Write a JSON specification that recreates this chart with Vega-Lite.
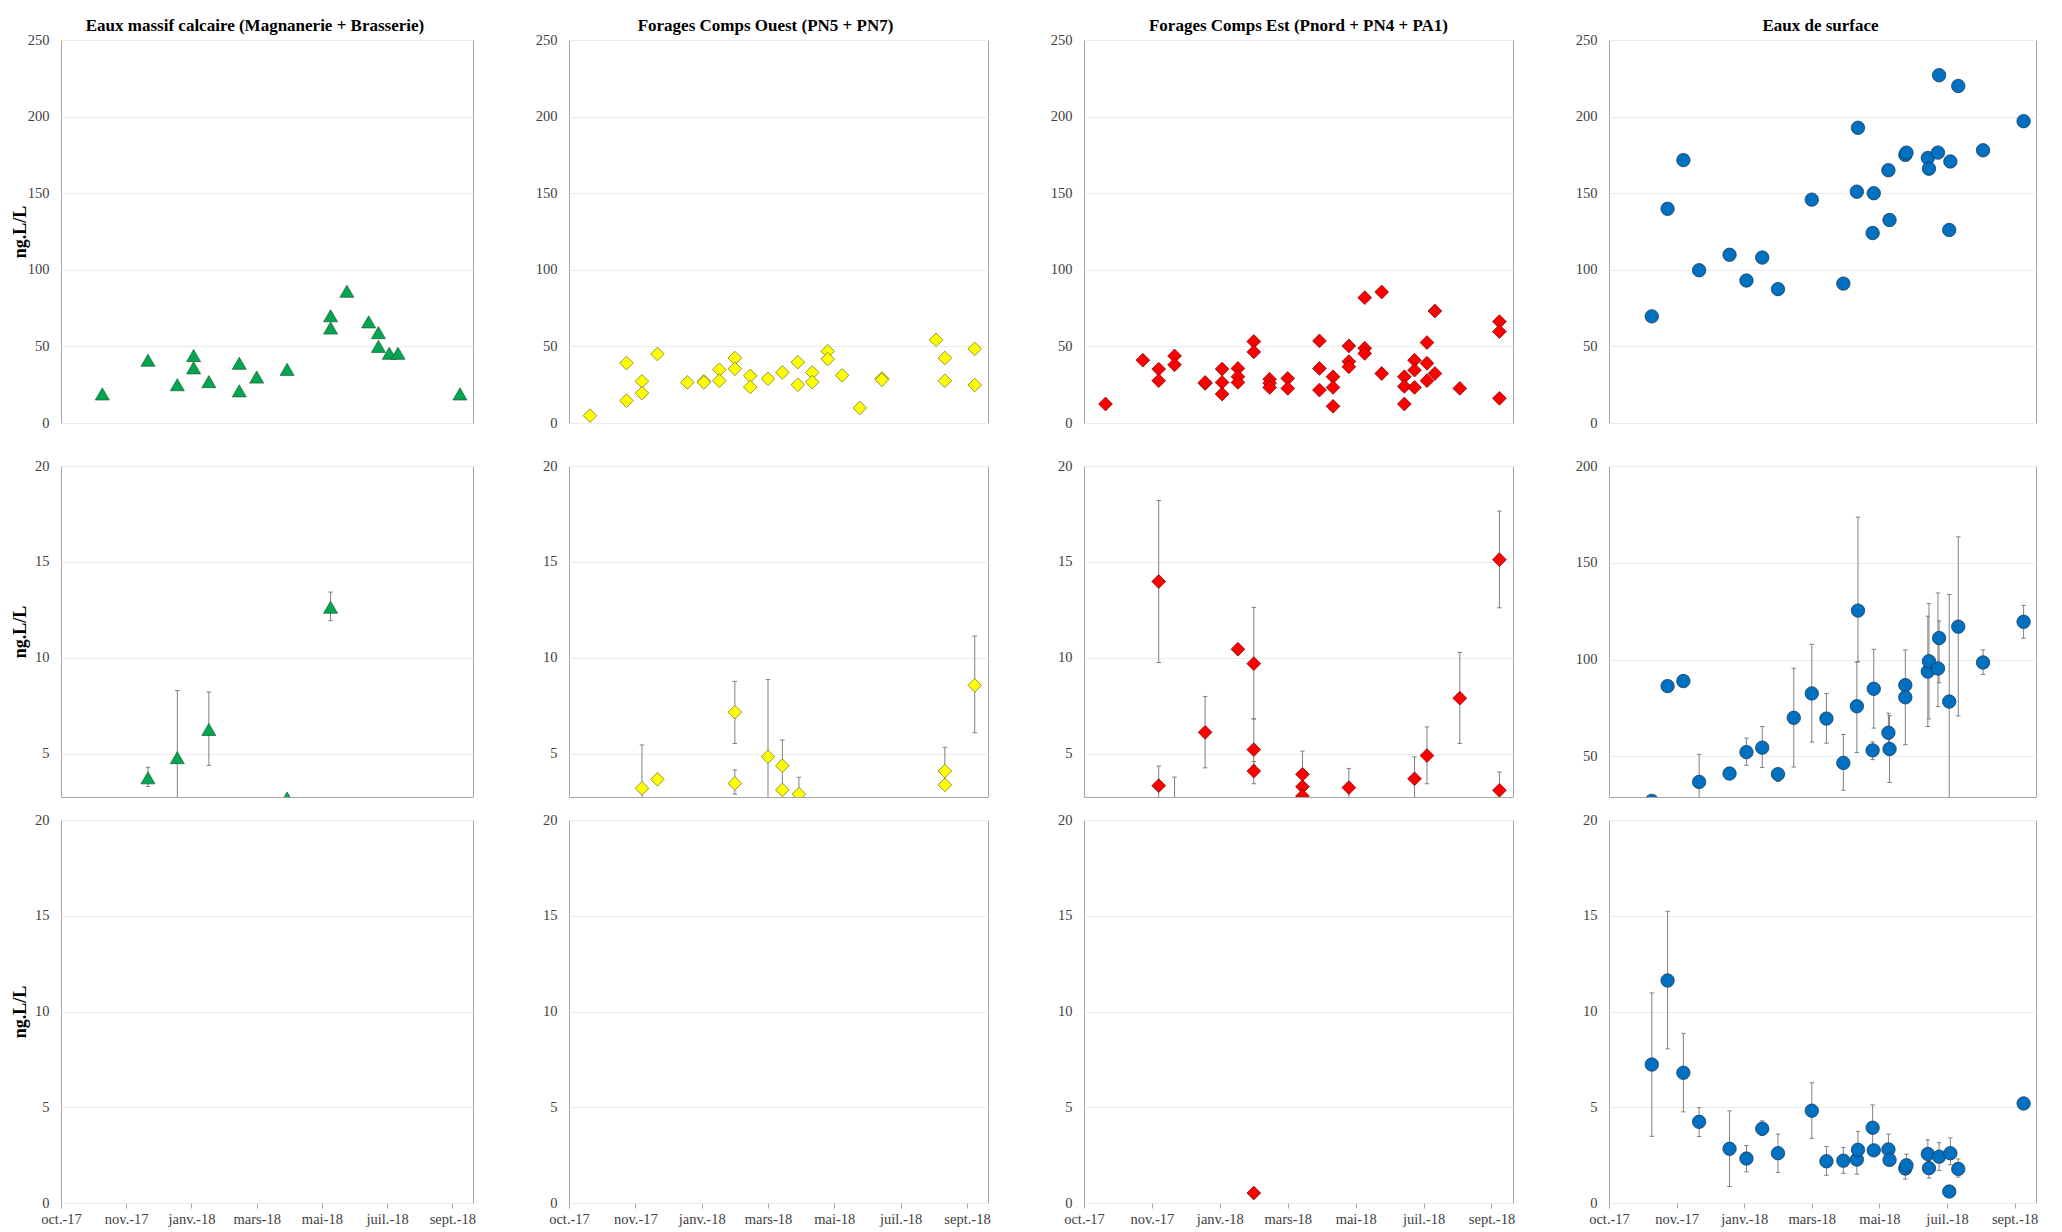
{
  "$schema": "https://vega.github.io/schema/vega-lite/v6.json",
  "background": "white",
  "padding": {"left": 10, "top": 16, "right": 5, "bottom": 2},
  "spacing": 13,
  "config": {
    "view": {"stroke": "#A6A6A6", "strokeWidth": 1},
    "font": "Liberation Serif",
    "axis": {"labelFont": "Liberation Serif", "labelFontSize": 14.5, "labelColor": "#404040", "titleFont": "Liberation Serif", "titleFontSize": 18, "titleFontWeight": "bold", "titleColor": "#000000", "gridColor": "#EBEBEB", "gridWidth": 1, "domain": false, "ticks": false, "labelPadding": 12},
    "title": {"font": "Liberation Serif", "fontSize": 17, "fontWeight": "bold", "color": "#000000", "offset": -20, "baseline": "bottom", "anchor": "middle", "frame": "group"}
  },
  "vconcat": [
    {
      "bounds": "flush",
      "spacing": 96,
      "hconcat": [
        {
          "width": 412, "height": 383,
          "title": {"text": "Eaux massif calcaire (Magnanerie + Brasserie)", "dx": -12, "font": "Liberation Serif", "fontSize": 17, "fontWeight": "bold", "color": "#000000", "offset": -20, "baseline": "bottom", "frame": "group"},
          "data": {"values": [{"date":"2017/11/08","conc":19},{"date":"2017/12/20","conc":41},{"date":"2018/01/16","conc":25},{"date":"2018/01/31","conc":44},{"date":"2018/01/31","conc":36},{"date":"2018/02/14","conc":27},{"date":"2018/03/14","conc":39},{"date":"2018/03/14","conc":21},{"date":"2018/03/30","conc":30},{"date":"2018/04/27","conc":35},{"date":"2018/06/06","conc":70},{"date":"2018/06/06","conc":62},{"date":"2018/06/21","conc":86},{"date":"2018/07/11","conc":66},{"date":"2018/07/20","conc":59},{"date":"2018/07/20","conc":50},{"date":"2018/07/30","conc":45.5},{"date":"2018/08/07","conc":45.5},{"date":"2018/10/03","conc":19}]},
          "mark": {"type": "point", "shape": "triangle-up", "filled": true, "fill": "#00A650", "stroke": "#245c35", "strokeWidth": 0.7, "size": 196, "opacity": 1, "clip": true},
          "encoding": {
            "x": {"field": "date", "type": "temporal", "scale": {"domain": [{"year":2017,"month":10,"date":1},{"year":2018,"month":10,"date":15}], "nice": false}, "axis": {"labels": false, "ticks": true, "tickSize": 20, "tickColor": "transparent", "domain": false, "grid": false, "title": null, "values": [{"year":2018,"month":4,"date":1}]}},
            "y": {"field": "conc", "type": "quantitative", "scale": {"domain": [0, 250], "nice": false, "zero": false}, "axis": {"values": [0,50,100,150,200,250], "title": "ng.L/L", "titleX": -32, "labelFont": "Liberation Serif", "labelFontSize": 14.5, "labelColor": "#404040", "labelPadding": 12, "ticks": false, "domain": false, "gridColor": "#EBEBEB", "titleFont": "Liberation Serif", "titleFontSize": 18, "titleFontWeight": "bold", "titleColor": "#000000"}}
          }
        },
        {
          "width": 419, "height": 383,
          "title": {"text": "Forages Comps Ouest (PN5 + PN7)", "dx": -13, "font": "Liberation Serif", "fontSize": 17, "fontWeight": "bold", "color": "#000000", "offset": -20, "baseline": "bottom", "frame": "group"},
          "data": {"values": [{"date":"2017/10/20","conc":4.8},{"date":"2017/11/22","conc":39.1},{"date":"2017/11/22","conc":14.6},{"date":"2017/12/06","conc":27.2},{"date":"2017/12/06","conc":19.5},{"date":"2017/12/20","conc":45},{"date":"2018/01/16","conc":26.5},{"date":"2018/01/31","conc":27.2},{"date":"2018/01/31","conc":26.5},{"date":"2018/02/14","conc":34.8},{"date":"2018/02/14","conc":27.6},{"date":"2018/02/28","conc":42.4},{"date":"2018/02/28","conc":35.4},{"date":"2018/03/14","conc":30.8},{"date":"2018/03/14","conc":23.5},{"date":"2018/03/30","conc":28.9},{"date":"2018/04/12","conc":33},{"date":"2018/04/26","conc":39.7},{"date":"2018/04/26","conc":25},{"date":"2018/05/09","conc":33},{"date":"2018/05/09","conc":26.7},{"date":"2018/05/23","conc":46.8},{"date":"2018/05/23","conc":41.7},{"date":"2018/06/05","conc":31.1},{"date":"2018/06/21","conc":9.8},{"date":"2018/07/11","conc":29.1},{"date":"2018/07/11","conc":28.2},{"date":"2018/08/29","conc":54.3},{"date":"2018/09/06","conc":42.4},{"date":"2018/09/06","conc":27.6},{"date":"2018/10/03","conc":48.4},{"date":"2018/10/03","conc":24.8}]},
          "mark": {"type": "point", "shape": "diamond", "filled": true, "fill": "#FFFF00", "stroke": "#7a7a30", "strokeWidth": 0.8, "size": 185, "opacity": 1, "clip": true},
          "encoding": {
            "x": {"field": "date", "type": "temporal", "scale": {"domain": [{"year":2017,"month":10,"date":1},{"year":2018,"month":10,"date":15}], "nice": false}, "axis": {"labels": false, "ticks": true, "tickSize": 20, "tickColor": "transparent", "domain": false, "grid": false, "title": null, "values": [{"year":2018,"month":4,"date":1}]}},
            "y": {"field": "conc", "type": "quantitative", "scale": {"domain": [0, 250], "nice": false, "zero": false}, "axis": {"values": [0,50,100,150,200,250], "title": null, "labelFont": "Liberation Serif", "labelFontSize": 14.5, "labelColor": "#404040", "labelPadding": 12, "ticks": false, "domain": false, "gridColor": "#EBEBEB"}}
          }
        },
        {
          "width": 429, "height": 383,
          "title": {"text": "Forages Comps Est (Pnord + PN4 + PA1)", "dx": 0, "font": "Liberation Serif", "fontSize": 17, "fontWeight": "bold", "color": "#000000", "offset": -20, "baseline": "bottom", "frame": "group"},
          "data": {"values": [{"date":"2017/10/20","conc":12.4},{"date":"2017/11/22","conc":41},{"date":"2017/12/06","conc":35.2},{"date":"2017/12/06","conc":27.6},{"date":"2017/12/20","conc":43.8},{"date":"2017/12/20","conc":38},{"date":"2018/01/16","conc":25.8},{"date":"2018/01/16","conc":26.5},{"date":"2018/01/31","conc":35.2},{"date":"2018/01/31","conc":26.5},{"date":"2018/01/31","conc":18.9},{"date":"2018/02/14","conc":35.6},{"date":"2018/02/14","conc":30.2},{"date":"2018/02/14","conc":26.5},{"date":"2018/02/28","conc":53.2},{"date":"2018/02/28","conc":46.4},{"date":"2018/03/14","conc":28.6},{"date":"2018/03/14","conc":26},{"date":"2018/03/14","conc":23.2},{"date":"2018/03/30","conc":29.1},{"date":"2018/03/30","conc":22.6},{"date":"2018/04/27","conc":53.6},{"date":"2018/04/27","conc":35.6},{"date":"2018/04/27","conc":21.5},{"date":"2018/05/09","conc":30.2},{"date":"2018/05/09","conc":23.2},{"date":"2018/05/09","conc":10.9},{"date":"2018/05/23","conc":50.3},{"date":"2018/05/23","conc":40.1},{"date":"2018/05/23","conc":36.7},{"date":"2018/06/06","conc":81.8},{"date":"2018/06/06","conc":48.8},{"date":"2018/06/06","conc":45.4},{"date":"2018/06/21","conc":85.5},{"date":"2018/06/21","conc":32.3},{"date":"2018/07/11","conc":30.2},{"date":"2018/07/11","conc":23.9},{"date":"2018/07/11","conc":12.4},{"date":"2018/07/20","conc":41},{"date":"2018/07/20","conc":34.5},{"date":"2018/07/20","conc":23.2},{"date":"2018/07/31","conc":52.5},{"date":"2018/07/31","conc":39},{"date":"2018/07/31","conc":27.6},{"date":"2018/08/07","conc":73.1},{"date":"2018/08/07","conc":32.3},{"date":"2018/08/29","conc":22.6},{"date":"2018/10/03","conc":66.2},{"date":"2018/10/03","conc":59.7},{"date":"2018/10/03","conc":16.1}]},
          "mark": {"type": "point", "shape": "diamond", "filled": true, "fill": "#FF0000", "stroke": "#6b0000", "strokeWidth": 0.7, "size": 190, "opacity": 1, "clip": true},
          "encoding": {
            "x": {"field": "date", "type": "temporal", "scale": {"domain": [{"year":2017,"month":10,"date":1},{"year":2018,"month":10,"date":15}], "nice": false}, "axis": {"labels": false, "ticks": true, "tickSize": 20, "tickColor": "transparent", "domain": false, "grid": false, "title": null, "values": [{"year":2018,"month":4,"date":1}]}},
            "y": {"field": "conc", "type": "quantitative", "scale": {"domain": [0, 250], "nice": false, "zero": false}, "axis": {"values": [0,50,100,150,200,250], "title": null, "labelFont": "Liberation Serif", "labelFontSize": 14.5, "labelColor": "#404040", "labelPadding": 12, "ticks": false, "domain": false, "gridColor": "#EBEBEB"}}
          }
        },
        {
          "width": 427, "height": 383,
          "title": {"text": "Eaux de surface", "dx": -2, "font": "Liberation Serif", "fontSize": 17, "fontWeight": "bold", "color": "#000000", "offset": -20, "baseline": "bottom", "frame": "group"},
          "data": {"values": [{"date":"2017/11/08","conc":69.6},{"date":"2017/11/22","conc":139.8},{"date":"2017/12/06","conc":171.6},{"date":"2017/12/20","conc":99.7},{"date":"2018/01/16","conc":109.8},{"date":"2018/01/31","conc":93},{"date":"2018/02/14","conc":108},{"date":"2018/02/28","conc":87.4},{"date":"2018/03/30","conc":145.8},{"date":"2018/04/27","conc":91},{"date":"2018/05/10","conc":192.7},{"date":"2018/05/09","conc":151},{"date":"2018/05/24","conc":150},{"date":"2018/05/23","conc":124},{"date":"2018/06/06","conc":165},{"date":"2018/06/07","conc":132.5},{"date":"2018/06/21","conc":175},{"date":"2018/06/22","conc":176.5},{"date":"2018/07/11","conc":173},{"date":"2018/07/12","conc":166},{"date":"2018/07/20","conc":176.5},{"date":"2018/07/21","conc":227},{"date":"2018/07/31","conc":170.7},{"date":"2018/07/30","conc":126},{"date":"2018/08/07","conc":220},{"date":"2018/08/29","conc":178},{"date":"2018/10/04","conc":197}]},
          "mark": {"type": "point", "shape": "circle", "filled": true, "fill": "#0070C0", "stroke": "#1b3a5c", "strokeWidth": 0.8, "size": 180, "opacity": 1, "clip": true},
          "encoding": {
            "x": {"field": "date", "type": "temporal", "scale": {"domain": [{"year":2017,"month":10,"date":1},{"year":2018,"month":10,"date":15}], "nice": false}, "axis": {"labels": false, "ticks": true, "tickSize": 20, "tickColor": "transparent", "domain": false, "grid": false, "title": null, "values": [{"year":2018,"month":4,"date":1}]}},
            "y": {"field": "conc", "type": "quantitative", "scale": {"domain": [0, 250], "nice": false, "zero": false}, "axis": {"values": [0,50,100,150,200,250], "title": null, "labelFont": "Liberation Serif", "labelFontSize": 14.5, "labelColor": "#404040", "labelPadding": 12, "ticks": false, "domain": false, "gridColor": "#EBEBEB"}}
          }
        }
      ]
    },
    {
      "bounds": "flush",
      "spacing": 96,
      "hconcat": [
        {
          "width": 412, "height": 331,
          "data": {"values": [{"date":"2017/12/20","conc":3.75,"lo":3.3,"hi":4.3},{"date":"2018/01/16","conc":4.8,"lo":1.5,"hi":8.3},{"date":"2018/02/14","conc":6.27,"lo":4.4,"hi":8.22},{"date":"2018/04/27","conc":2.7,"lo":null,"hi":null},{"date":"2018/06/06","conc":12.64,"lo":11.94,"hi":13.43}]},
          "encoding": {"x": {"field": "date", "type": "temporal", "scale": {"domain": [{"year":2017,"month":10,"date":1},{"year":2018,"month":10,"date":15}], "nice": false}, "axis": null}},
          "layer": [
            {"transform": [{"filter": "datum.lo != null"}], "mark": {"type": "rule", "color": "#808080", "strokeWidth": 1, "clip": true}, "encoding": {"y": {"field": "lo", "type": "quantitative", "scale": {"domain": [2.75, 20], "nice": false, "zero": false}, "axis": {"values": [5,10,15,20], "title": "ng.L/L", "titleX": -32, "labelFont": "Liberation Serif", "labelFontSize": 14.5, "labelColor": "#404040", "labelPadding": 12, "ticks": false, "domain": false, "gridColor": "#EBEBEB", "titleFont": "Liberation Serif", "titleFontSize": 18, "titleFontWeight": "bold", "titleColor": "#000000"}}, "y2": {"field": "hi"}}},
            {"transform": [{"filter": "datum.lo != null"}], "mark": {"type": "point", "shape": "stroke", "filled": false, "stroke": "#808080", "strokeWidth": 1, "size": 20, "opacity": 1, "clip": true}, "encoding": {"y": {"field": "lo", "type": "quantitative", "scale": {"domain": [2.75, 20], "nice": false, "zero": false}, "axis": {"values": [5,10,15,20], "title": "ng.L/L", "titleX": -32, "labelFont": "Liberation Serif", "labelFontSize": 14.5, "labelColor": "#404040", "labelPadding": 12, "ticks": false, "domain": false, "gridColor": "#EBEBEB", "titleFont": "Liberation Serif", "titleFontSize": 18, "titleFontWeight": "bold", "titleColor": "#000000"}}}},
            {"transform": [{"filter": "datum.hi != null"}], "mark": {"type": "point", "shape": "stroke", "filled": false, "stroke": "#808080", "strokeWidth": 1, "size": 20, "opacity": 1, "clip": true}, "encoding": {"y": {"field": "hi", "type": "quantitative", "scale": {"domain": [2.75, 20], "nice": false, "zero": false}, "axis": {"values": [5,10,15,20], "title": "ng.L/L", "titleX": -32, "labelFont": "Liberation Serif", "labelFontSize": 14.5, "labelColor": "#404040", "labelPadding": 12, "ticks": false, "domain": false, "gridColor": "#EBEBEB", "titleFont": "Liberation Serif", "titleFontSize": 18, "titleFontWeight": "bold", "titleColor": "#000000"}}}},
            {"mark": {"type": "point", "shape": "triangle-up", "filled": true, "fill": "#00A650", "stroke": "#245c35", "strokeWidth": 0.7, "size": 196, "opacity": 1, "clip": true}, "encoding": {"y": {"field": "conc", "type": "quantitative", "scale": {"domain": [2.75, 20], "nice": false, "zero": false}, "axis": {"values": [5,10,15,20], "title": "ng.L/L", "titleX": -32, "labelFont": "Liberation Serif", "labelFontSize": 14.5, "labelColor": "#404040", "labelPadding": 12, "ticks": false, "domain": false, "gridColor": "#EBEBEB", "titleFont": "Liberation Serif", "titleFontSize": 18, "titleFontWeight": "bold", "titleColor": "#000000"}}}}
          ]
        },
        {
          "width": 419, "height": 331,
          "data": {"values": [{"date":"2017/12/06","conc":3.2,"lo":1.5,"hi":5.46},{"date":"2017/12/20","conc":3.67,"lo":null,"hi":null},{"date":"2018/02/28","conc":7.17,"lo":5.54,"hi":8.78},{"date":"2018/02/28","conc":3.46,"lo":2.9,"hi":4.16},{"date":"2018/03/30","conc":4.85,"lo":1.0,"hi":8.87},{"date":"2018/04/12","conc":4.38,"lo":3.2,"hi":5.72},{"date":"2018/04/12","conc":3.12,"lo":null,"hi":null},{"date":"2018/04/27","conc":2.9,"lo":2.2,"hi":3.78},{"date":"2018/09/06","conc":4.1,"lo":3.4,"hi":5.34},{"date":"2018/09/06","conc":3.38,"lo":null,"hi":null},{"date":"2018/10/03","conc":8.57,"lo":6.1,"hi":11.14}]},
          "encoding": {"x": {"field": "date", "type": "temporal", "scale": {"domain": [{"year":2017,"month":10,"date":1},{"year":2018,"month":10,"date":15}], "nice": false}, "axis": null}},
          "layer": [
            {"transform": [{"filter": "datum.lo != null"}], "mark": {"type": "rule", "color": "#808080", "strokeWidth": 1, "clip": true}, "encoding": {"y": {"field": "lo", "type": "quantitative", "scale": {"domain": [2.75, 20], "nice": false, "zero": false}, "axis": {"values": [5,10,15,20], "title": null, "labelFont": "Liberation Serif", "labelFontSize": 14.5, "labelColor": "#404040", "labelPadding": 12, "ticks": false, "domain": false, "gridColor": "#EBEBEB"}}, "y2": {"field": "hi"}}},
            {"transform": [{"filter": "datum.lo != null"}], "mark": {"type": "point", "shape": "stroke", "filled": false, "stroke": "#808080", "strokeWidth": 1, "size": 20, "opacity": 1, "clip": true}, "encoding": {"y": {"field": "lo", "type": "quantitative", "scale": {"domain": [2.75, 20], "nice": false, "zero": false}, "axis": {"values": [5,10,15,20], "title": null, "labelFont": "Liberation Serif", "labelFontSize": 14.5, "labelColor": "#404040", "labelPadding": 12, "ticks": false, "domain": false, "gridColor": "#EBEBEB"}}}},
            {"transform": [{"filter": "datum.hi != null"}], "mark": {"type": "point", "shape": "stroke", "filled": false, "stroke": "#808080", "strokeWidth": 1, "size": 20, "opacity": 1, "clip": true}, "encoding": {"y": {"field": "hi", "type": "quantitative", "scale": {"domain": [2.75, 20], "nice": false, "zero": false}, "axis": {"values": [5,10,15,20], "title": null, "labelFont": "Liberation Serif", "labelFontSize": 14.5, "labelColor": "#404040", "labelPadding": 12, "ticks": false, "domain": false, "gridColor": "#EBEBEB"}}}},
            {"mark": {"type": "point", "shape": "diamond", "filled": true, "fill": "#FFFF00", "stroke": "#7a7a30", "strokeWidth": 0.8, "size": 185, "opacity": 1, "clip": true}, "encoding": {"y": {"field": "conc", "type": "quantitative", "scale": {"domain": [2.75, 20], "nice": false, "zero": false}, "axis": {"values": [5,10,15,20], "title": null, "labelFont": "Liberation Serif", "labelFontSize": 14.5, "labelColor": "#404040", "labelPadding": 12, "ticks": false, "domain": false, "gridColor": "#EBEBEB"}}}}
          ]
        },
        {
          "width": 429, "height": 331,
          "data": {"values": [{"date":"2017/12/06","conc":13.98,"lo":9.76,"hi":18.2},{"date":"2017/12/06","conc":3.34,"lo":2.5,"hi":4.36},{"date":"2017/12/20","conc":1.8,"lo":1.0,"hi":3.79},{"date":"2018/01/16","conc":6.12,"lo":4.27,"hi":7.99},{"date":"2018/02/14","conc":10.45,"lo":null,"hi":null},{"date":"2018/02/28","conc":9.7,"lo":6.82,"hi":12.63},{"date":"2018/02/28","conc":5.22,"lo":4.4,"hi":6.82},{"date":"2018/02/28","conc":4.1,"lo":3.44,"hi":4.6},{"date":"2018/04/12","conc":3.93,"lo":3.3,"hi":5.14},{"date":"2018/04/12","conc":3.29,"lo":null,"hi":null},{"date":"2018/04/12","conc":2.8,"lo":null,"hi":null},{"date":"2018/05/23","conc":3.24,"lo":2.5,"hi":4.24},{"date":"2018/07/20","conc":3.7,"lo":2.0,"hi":4.84},{"date":"2018/07/31","conc":4.91,"lo":3.44,"hi":6.4},{"date":"2018/08/29","conc":7.9,"lo":5.54,"hi":10.29},{"date":"2018/10/03","conc":15.12,"lo":12.61,"hi":17.65},{"date":"2018/10/03","conc":3.1,"lo":2.3,"hi":4.05}]},
          "encoding": {"x": {"field": "date", "type": "temporal", "scale": {"domain": [{"year":2017,"month":10,"date":1},{"year":2018,"month":10,"date":15}], "nice": false}, "axis": null}},
          "layer": [
            {"transform": [{"filter": "datum.lo != null"}], "mark": {"type": "rule", "color": "#808080", "strokeWidth": 1, "clip": true}, "encoding": {"y": {"field": "lo", "type": "quantitative", "scale": {"domain": [2.75, 20], "nice": false, "zero": false}, "axis": {"values": [5,10,15,20], "title": null, "labelFont": "Liberation Serif", "labelFontSize": 14.5, "labelColor": "#404040", "labelPadding": 12, "ticks": false, "domain": false, "gridColor": "#EBEBEB"}}, "y2": {"field": "hi"}}},
            {"transform": [{"filter": "datum.lo != null"}], "mark": {"type": "point", "shape": "stroke", "filled": false, "stroke": "#808080", "strokeWidth": 1, "size": 20, "opacity": 1, "clip": true}, "encoding": {"y": {"field": "lo", "type": "quantitative", "scale": {"domain": [2.75, 20], "nice": false, "zero": false}, "axis": {"values": [5,10,15,20], "title": null, "labelFont": "Liberation Serif", "labelFontSize": 14.5, "labelColor": "#404040", "labelPadding": 12, "ticks": false, "domain": false, "gridColor": "#EBEBEB"}}}},
            {"transform": [{"filter": "datum.hi != null"}], "mark": {"type": "point", "shape": "stroke", "filled": false, "stroke": "#808080", "strokeWidth": 1, "size": 20, "opacity": 1, "clip": true}, "encoding": {"y": {"field": "hi", "type": "quantitative", "scale": {"domain": [2.75, 20], "nice": false, "zero": false}, "axis": {"values": [5,10,15,20], "title": null, "labelFont": "Liberation Serif", "labelFontSize": 14.5, "labelColor": "#404040", "labelPadding": 12, "ticks": false, "domain": false, "gridColor": "#EBEBEB"}}}},
            {"mark": {"type": "point", "shape": "diamond", "filled": true, "fill": "#FF0000", "stroke": "#6b0000", "strokeWidth": 0.7, "size": 190, "opacity": 1, "clip": true}, "encoding": {"y": {"field": "conc", "type": "quantitative", "scale": {"domain": [2.75, 20], "nice": false, "zero": false}, "axis": {"values": [5,10,15,20], "title": null, "labelFont": "Liberation Serif", "labelFontSize": 14.5, "labelColor": "#404040", "labelPadding": 12, "ticks": false, "domain": false, "gridColor": "#EBEBEB"}}}}
          ]
        },
        {
          "width": 427, "height": 331,
          "data": {"values": [{"date":"2017/11/08","conc":27,"lo":null,"hi":null},{"date":"2017/11/22","conc":86.3,"lo":null,"hi":null},{"date":"2017/12/06","conc":88.9,"lo":null,"hi":null},{"date":"2017/12/20","conc":36.8,"lo":20,"hi":51},{"date":"2018/01/16","conc":41.1,"lo":null,"hi":null},{"date":"2018/01/31","conc":52.2,"lo":45.4,"hi":59.4},{"date":"2018/02/14","conc":54.5,"lo":44.2,"hi":65.4},{"date":"2018/02/28","conc":40.8,"lo":37,"hi":43},{"date":"2018/03/14","conc":69.9,"lo":44.5,"hi":95.5},{"date":"2018/03/30","conc":82.5,"lo":57.4,"hi":107.9},{"date":"2018/04/12","conc":69.5,"lo":56.8,"hi":82.5},{"date":"2018/04/27","conc":46.6,"lo":32.5,"hi":61.3},{"date":"2018/05/10","conc":125.3,"lo":99,"hi":173.6},{"date":"2018/05/09","conc":75.9,"lo":52,"hi":98.6},{"date":"2018/05/23","conc":53.1,"lo":48.3,"hi":57.5},{"date":"2018/05/24","conc":84.9,"lo":64.6,"hi":105.3},{"date":"2018/06/06","conc":62.2,"lo":52,"hi":72.3},{"date":"2018/06/07","conc":53.8,"lo":36.5,"hi":71},{"date":"2018/06/21","conc":86.8,"lo":80,"hi":105},{"date":"2018/06/21","conc":80.5,"lo":56,"hi":87},{"date":"2018/07/11","conc":93.8,"lo":65.4,"hi":122.4},{"date":"2018/07/12","conc":99.1,"lo":69.3,"hi":128.9},{"date":"2018/07/20","conc":95.4,"lo":75.7,"hi":134.4},{"date":"2018/07/21","conc":111.1,"lo":88,"hi":120},{"date":"2018/07/30","conc":78.3,"lo":20,"hi":133.6},{"date":"2018/08/07","conc":117,"lo":70.9,"hi":163.4},{"date":"2018/08/29","conc":98.5,"lo":92.3,"hi":105},{"date":"2018/10/04","conc":119.5,"lo":111,"hi":128}]},
          "encoding": {"x": {"field": "date", "type": "temporal", "scale": {"domain": [{"year":2017,"month":10,"date":1},{"year":2018,"month":10,"date":15}], "nice": false}, "axis": null}},
          "layer": [
            {"transform": [{"filter": "datum.lo != null"}], "mark": {"type": "rule", "color": "#808080", "strokeWidth": 1, "clip": true}, "encoding": {"y": {"field": "lo", "type": "quantitative", "scale": {"domain": [29, 200], "nice": false, "zero": false}, "axis": {"values": [50,100,150,200], "title": null, "labelFont": "Liberation Serif", "labelFontSize": 14.5, "labelColor": "#404040", "labelPadding": 12, "ticks": false, "domain": false, "gridColor": "#EBEBEB"}}, "y2": {"field": "hi"}}},
            {"transform": [{"filter": "datum.lo != null"}], "mark": {"type": "point", "shape": "stroke", "filled": false, "stroke": "#808080", "strokeWidth": 1, "size": 20, "opacity": 1, "clip": true}, "encoding": {"y": {"field": "lo", "type": "quantitative", "scale": {"domain": [29, 200], "nice": false, "zero": false}, "axis": {"values": [50,100,150,200], "title": null, "labelFont": "Liberation Serif", "labelFontSize": 14.5, "labelColor": "#404040", "labelPadding": 12, "ticks": false, "domain": false, "gridColor": "#EBEBEB"}}}},
            {"transform": [{"filter": "datum.hi != null"}], "mark": {"type": "point", "shape": "stroke", "filled": false, "stroke": "#808080", "strokeWidth": 1, "size": 20, "opacity": 1, "clip": true}, "encoding": {"y": {"field": "hi", "type": "quantitative", "scale": {"domain": [29, 200], "nice": false, "zero": false}, "axis": {"values": [50,100,150,200], "title": null, "labelFont": "Liberation Serif", "labelFontSize": 14.5, "labelColor": "#404040", "labelPadding": 12, "ticks": false, "domain": false, "gridColor": "#EBEBEB"}}}},
            {"mark": {"type": "point", "shape": "circle", "filled": true, "fill": "#0070C0", "stroke": "#1b3a5c", "strokeWidth": 0.8, "size": 180, "opacity": 1, "clip": true}, "encoding": {"y": {"field": "conc", "type": "quantitative", "scale": {"domain": [29, 200], "nice": false, "zero": false}, "axis": {"values": [50,100,150,200], "title": null, "labelFont": "Liberation Serif", "labelFontSize": 14.5, "labelColor": "#404040", "labelPadding": 12, "ticks": false, "domain": false, "gridColor": "#EBEBEB"}}}}
          ]
        }
      ]
    },
    {
      "bounds": "flush",
      "spacing": 96,
      "hconcat": [
        {
          "width": 412, "height": 383,
          "data": {"values": []},
          "mark": {"type": "point", "shape": "triangle-up", "filled": true, "fill": "#00A650", "size": 196, "opacity": 1, "clip": true},
          "encoding": {
            "x": {"field": "date", "type": "temporal", "scale": {"domain": [{"year":2017,"month":10,"date":1},{"year":2018,"month":10,"date":15}], "nice": false}, "axis": {"values": [{"year":2017,"month":10,"date":1},{"year":2017,"month":11,"date":30},{"year":2018,"month":1,"date":29},{"year":2018,"month":3,"date":30},{"year":2018,"month":5,"date":29},{"year":2018,"month":7,"date":28},{"year":2018,"month":9,"date":26}], "labelExpr": "['janv.','févr.','mars','avr.','mai','juin','juil.','août','sept.','oct.','nov.','déc.'][month(datum.value)] + '-' + timeFormat(datum.value, '%y')", "ticks": true, "tickSize": 5, "tickColor": "#A6A6A6", "domain": false, "grid": false, "title": null, "labelPadding": 4, "labelOverlap": false, "labelFlush": false, "labelFont": "Liberation Serif", "labelFontSize": 14.5, "labelColor": "#404040"}},
            "y": {"field": "conc", "type": "quantitative", "scale": {"domain": [0, 20], "nice": false, "zero": false}, "axis": {"values": [0,5,10,15,20], "title": "ng.L/L", "titleX": -32, "labelFont": "Liberation Serif", "labelFontSize": 14.5, "labelColor": "#404040", "labelPadding": 12, "ticks": false, "domain": false, "gridColor": "#EBEBEB", "titleFont": "Liberation Serif", "titleFontSize": 18, "titleFontWeight": "bold", "titleColor": "#000000"}}
          }
        },
        {
          "width": 419, "height": 383,
          "data": {"values": []},
          "mark": {"type": "point", "shape": "diamond", "filled": true, "fill": "#FFFF00", "size": 185, "opacity": 1, "clip": true},
          "encoding": {
            "x": {"field": "date", "type": "temporal", "scale": {"domain": [{"year":2017,"month":10,"date":1},{"year":2018,"month":10,"date":15}], "nice": false}, "axis": {"values": [{"year":2017,"month":10,"date":1},{"year":2017,"month":11,"date":30},{"year":2018,"month":1,"date":29},{"year":2018,"month":3,"date":30},{"year":2018,"month":5,"date":29},{"year":2018,"month":7,"date":28},{"year":2018,"month":9,"date":26}], "labelExpr": "['janv.','févr.','mars','avr.','mai','juin','juil.','août','sept.','oct.','nov.','déc.'][month(datum.value)] + '-' + timeFormat(datum.value, '%y')", "ticks": true, "tickSize": 5, "tickColor": "#A6A6A6", "domain": false, "grid": false, "title": null, "labelPadding": 4, "labelOverlap": false, "labelFlush": false, "labelFont": "Liberation Serif", "labelFontSize": 14.5, "labelColor": "#404040"}},
            "y": {"field": "conc", "type": "quantitative", "scale": {"domain": [0, 20], "nice": false, "zero": false}, "axis": {"values": [0,5,10,15,20], "title": null, "labelFont": "Liberation Serif", "labelFontSize": 14.5, "labelColor": "#404040", "labelPadding": 12, "ticks": false, "domain": false, "gridColor": "#EBEBEB"}}
          }
        },
        {
          "width": 429, "height": 383,
          "data": {"values": [{"date":"2018/02/28","conc":0.52}]},
          "mark": {"type": "point", "shape": "diamond", "filled": true, "fill": "#FF0000", "stroke": "#6b0000", "strokeWidth": 0.7, "size": 190, "opacity": 1, "clip": true},
          "encoding": {
            "x": {"field": "date", "type": "temporal", "scale": {"domain": [{"year":2017,"month":10,"date":1},{"year":2018,"month":10,"date":15}], "nice": false}, "axis": {"values": [{"year":2017,"month":10,"date":1},{"year":2017,"month":11,"date":30},{"year":2018,"month":1,"date":29},{"year":2018,"month":3,"date":30},{"year":2018,"month":5,"date":29},{"year":2018,"month":7,"date":28},{"year":2018,"month":9,"date":26}], "labelExpr": "['janv.','févr.','mars','avr.','mai','juin','juil.','août','sept.','oct.','nov.','déc.'][month(datum.value)] + '-' + timeFormat(datum.value, '%y')", "ticks": true, "tickSize": 5, "tickColor": "#A6A6A6", "domain": false, "grid": false, "title": null, "labelPadding": 4, "labelOverlap": false, "labelFlush": false, "labelFont": "Liberation Serif", "labelFontSize": 14.5, "labelColor": "#404040"}},
            "y": {"field": "conc", "type": "quantitative", "scale": {"domain": [0, 20], "nice": false, "zero": false}, "axis": {"values": [0,5,10,15,20], "title": null, "labelFont": "Liberation Serif", "labelFontSize": 14.5, "labelColor": "#404040", "labelPadding": 12, "ticks": false, "domain": false, "gridColor": "#EBEBEB"}}
          }
        },
        {
          "width": 427, "height": 383,
          "data": {"values": [{"date":"2017/11/08","conc":7.23,"lo":3.48,"hi":10.97},{"date":"2017/11/22","conc":11.62,"lo":8.05,"hi":15.23},{"date":"2017/12/06","conc":6.8,"lo":4.76,"hi":8.86},{"date":"2017/12/20","conc":4.24,"lo":3.47,"hi":4.98},{"date":"2018/01/16","conc":2.83,"lo":0.86,"hi":4.81},{"date":"2018/01/31","conc":2.32,"lo":1.63,"hi":3.0},{"date":"2018/02/14","conc":3.88,"lo":3.52,"hi":4.29},{"date":"2018/02/28","conc":2.6,"lo":1.6,"hi":3.6},{"date":"2018/03/30","conc":4.82,"lo":3.38,"hi":6.28},{"date":"2018/04/12","conc":2.18,"lo":1.45,"hi":2.95},{"date":"2018/04/27","conc":2.21,"lo":1.55,"hi":2.9},{"date":"2018/05/09","conc":2.27,"lo":1.51,"hi":2.7},{"date":"2018/05/10","conc":2.78,"lo":2.2,"hi":3.74},{"date":"2018/05/23","conc":3.93,"lo":2.8,"hi":5.12},{"date":"2018/05/24","conc":2.75,"lo":null,"hi":null},{"date":"2018/06/06","conc":2.8,"lo":2.3,"hi":3.6},{"date":"2018/06/07","conc":2.25,"lo":null,"hi":null},{"date":"2018/06/21","conc":1.8,"lo":1.25,"hi":2.2},{"date":"2018/06/22","conc":1.97,"lo":1.5,"hi":2.55},{"date":"2018/07/11","conc":2.56,"lo":2.0,"hi":3.3},{"date":"2018/07/12","conc":1.82,"lo":1.3,"hi":2.2},{"date":"2018/07/21","conc":2.42,"lo":1.7,"hi":3.15},{"date":"2018/07/31","conc":2.6,"lo":2.0,"hi":3.4},{"date":"2018/07/30","conc":0.6,"lo":null,"hi":null},{"date":"2018/08/07","conc":1.78,"lo":1.35,"hi":2.3},{"date":"2018/10/04","conc":5.2,"lo":null,"hi":null}]},
          "encoding": {"x": {"field": "date", "type": "temporal", "scale": {"domain": [{"year":2017,"month":10,"date":1},{"year":2018,"month":10,"date":15}], "nice": false}, "axis": {"values": [{"year":2017,"month":10,"date":1},{"year":2017,"month":11,"date":30},{"year":2018,"month":1,"date":29},{"year":2018,"month":3,"date":30},{"year":2018,"month":5,"date":29},{"year":2018,"month":7,"date":28},{"year":2018,"month":9,"date":26}], "labelExpr": "['janv.','févr.','mars','avr.','mai','juin','juil.','août','sept.','oct.','nov.','déc.'][month(datum.value)] + '-' + timeFormat(datum.value, '%y')", "ticks": true, "tickSize": 5, "tickColor": "#A6A6A6", "domain": false, "grid": false, "title": null, "labelPadding": 4, "labelOverlap": false, "labelFlush": false, "labelFont": "Liberation Serif", "labelFontSize": 14.5, "labelColor": "#404040"}}},
          "layer": [
            {"transform": [{"filter": "datum.lo != null"}], "mark": {"type": "rule", "color": "#808080", "strokeWidth": 1, "clip": true}, "encoding": {"y": {"field": "lo", "type": "quantitative", "scale": {"domain": [0, 20], "nice": false, "zero": false}, "axis": {"values": [0,5,10,15,20], "title": null, "labelFont": "Liberation Serif", "labelFontSize": 14.5, "labelColor": "#404040", "labelPadding": 12, "ticks": false, "domain": false, "gridColor": "#EBEBEB"}}, "y2": {"field": "hi"}}},
            {"transform": [{"filter": "datum.lo != null"}], "mark": {"type": "point", "shape": "stroke", "filled": false, "stroke": "#808080", "strokeWidth": 1, "size": 20, "opacity": 1, "clip": true}, "encoding": {"y": {"field": "lo", "type": "quantitative", "scale": {"domain": [0, 20], "nice": false, "zero": false}, "axis": {"values": [0,5,10,15,20], "title": null, "labelFont": "Liberation Serif", "labelFontSize": 14.5, "labelColor": "#404040", "labelPadding": 12, "ticks": false, "domain": false, "gridColor": "#EBEBEB"}}}},
            {"transform": [{"filter": "datum.hi != null"}], "mark": {"type": "point", "shape": "stroke", "filled": false, "stroke": "#808080", "strokeWidth": 1, "size": 20, "opacity": 1, "clip": true}, "encoding": {"y": {"field": "hi", "type": "quantitative", "scale": {"domain": [0, 20], "nice": false, "zero": false}, "axis": {"values": [0,5,10,15,20], "title": null, "labelFont": "Liberation Serif", "labelFontSize": 14.5, "labelColor": "#404040", "labelPadding": 12, "ticks": false, "domain": false, "gridColor": "#EBEBEB"}}}},
            {"mark": {"type": "point", "shape": "circle", "filled": true, "fill": "#0070C0", "stroke": "#1b3a5c", "strokeWidth": 0.8, "size": 180, "opacity": 1, "clip": true}, "encoding": {"y": {"field": "conc", "type": "quantitative", "scale": {"domain": [0, 20], "nice": false, "zero": false}, "axis": {"values": [0,5,10,15,20], "title": null, "labelFont": "Liberation Serif", "labelFontSize": 14.5, "labelColor": "#404040", "labelPadding": 12, "ticks": false, "domain": false, "gridColor": "#EBEBEB"}}}}
          ]
        }
      ]
    }
  ]
}
